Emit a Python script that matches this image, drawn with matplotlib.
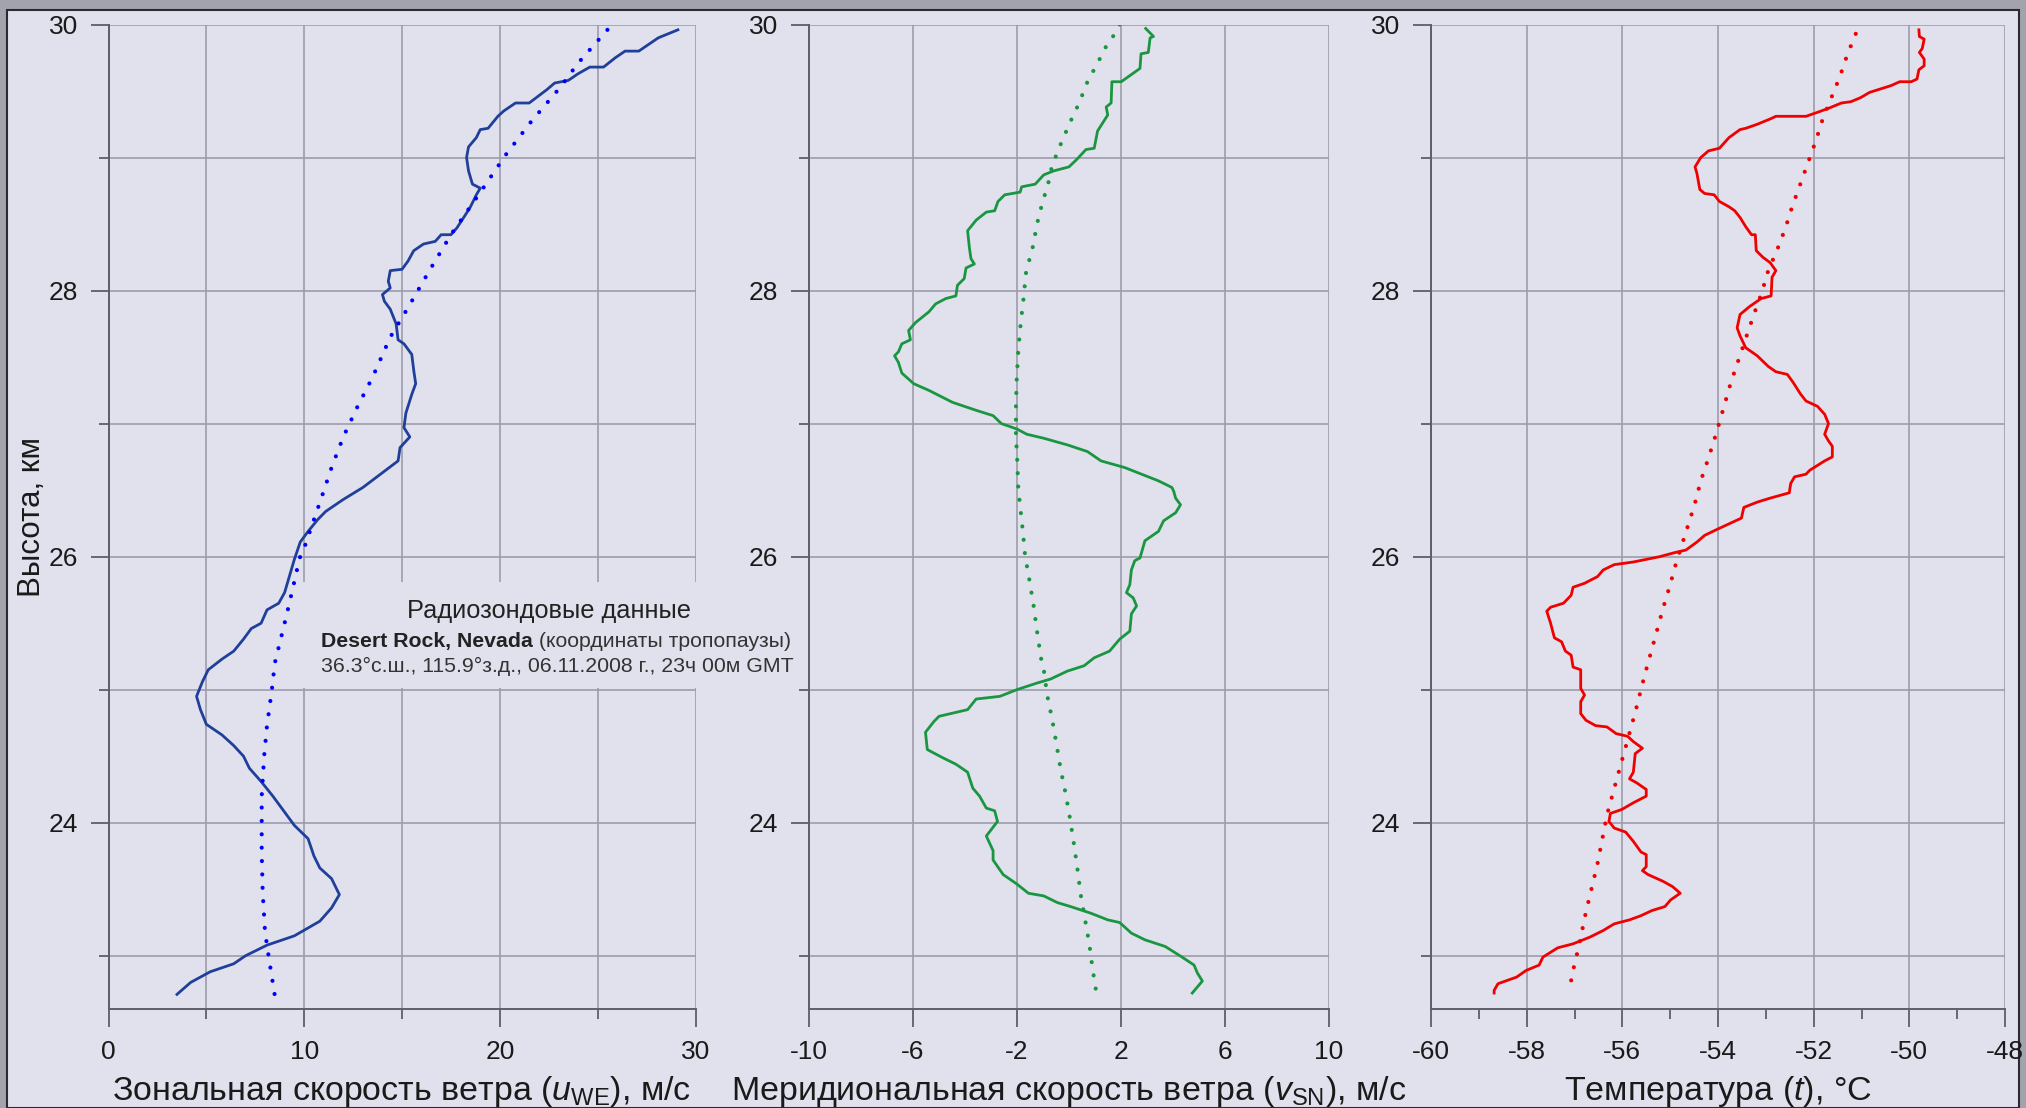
import matplotlib
matplotlib.use('Agg')
import matplotlib.pyplot as plt
from matplotlib.patches import Rectangle

plt.rcParams['font.family'] = ['Liberation Sans', 'DejaVu Sans']
plt.rcParams['mathtext.fontset'] = 'custom'
plt.rcParams['mathtext.rm'] = 'Liberation Sans'
plt.rcParams['mathtext.it'] = 'Liberation Sans:italic'
plt.rcParams['mathtext.bf'] = 'Liberation Sans:bold'
plt.rcParams['axes.unicode_minus'] = False

# --- зональная скорость ветра u (м/с) по высоте (км) ---
h_u = [29.96, 29.9, 29.82, 29.8, 29.8, 29.75, 29.68, 29.68, 29.63, 29.58, 29.56, 29.51,
       29.41, 29.41, 29.35, 29.31, 29.22, 29.21, 29.15, 29.08, 29.0, 28.9, 28.8, 28.77,
       28.72, 28.63, 28.56, 28.47, 28.42, 28.42, 28.37, 28.35, 28.3, 28.22, 28.16, 28.15,
       28.07, 28.02, 27.97, 27.92, 27.86, 27.75, 27.63, 27.6, 27.52, 27.4, 27.3, 27.22,
       27.08, 26.97, 26.9, 26.82, 26.72, 26.62, 26.52, 26.43, 26.34, 26.28, 26.19, 26.11,
       25.98, 25.83, 25.73, 25.65, 25.6, 25.5, 25.46, 25.38, 25.29, 25.23, 25.15, 25.06,
       24.95, 24.85, 24.74, 24.66, 24.58, 24.5, 24.41, 24.31, 24.2, 24.1, 23.98, 23.88,
       23.75, 23.66, 23.58, 23.46, 23.36, 23.26, 23.15, 23.08, 23.0, 22.94, 22.88, 22.8,
       22.71]
u_obs = [29.1, 28.1, 27.3, 27.1, 26.4, 25.9, 25.3, 24.6, 24.0, 23.5, 22.8, 22.4,
         21.5, 20.8, 20.2, 19.9, 19.4, 19.0, 18.8, 18.4, 18.3, 18.4, 18.6, 19.0,
         18.8, 18.5, 18.2, 17.8, 17.5, 17.0, 16.7, 16.1, 15.6, 15.3, 15.0, 14.4,
         14.3, 14.4, 14.0, 14.1, 14.4, 14.7, 14.8, 15.1, 15.5, 15.6, 15.7, 15.5,
         15.2, 15.1, 15.4, 14.9, 14.8, 13.9, 13.0, 12.0, 11.1, 10.7, 10.2, 9.8,
         9.5, 9.2, 9.0, 8.7, 8.1, 7.8, 7.3, 6.9, 6.4, 5.8, 5.1, 4.8,
         4.5, 4.7, 5.0, 5.8, 6.4, 6.9, 7.2, 7.8, 8.4, 8.9, 9.5, 10.2,
         10.5, 10.8, 11.4, 11.8, 11.4, 10.8, 9.5, 8.1, 7.0, 6.4, 5.2, 4.2,
         3.5]
h_u_fit = [29.96, 29.71, 29.53, 29.27, 29.02, 28.76, 28.42, 28.15, 27.87, 27.65, 27.35,
           27.12, 26.9, 26.67, 26.45, 26.09, 25.99, 25.75, 25.56, 25.38, 25.2, 25.0,
           24.73, 24.51, 24.2, 24.0, 23.78, 23.48, 23.18, 22.98, 22.7]
u_fit = [25.5, 24.0, 23.1, 21.6, 20.3, 19.1, 17.5, 16.4, 15.3, 14.4, 13.5,
         12.7, 12.0, 11.4, 10.9, 10.06, 9.77, 9.4, 9.1, 8.8, 8.5, 8.35,
         8.1, 7.96, 7.83, 7.83, 7.83, 7.88, 8.0, 8.2, 8.5]

# --- меридиональная скорость ветра v (м/с) ---
h_v = [29.97, 29.91, 29.9, 29.79, 29.78, 29.67, 29.57, 29.57, 29.41, 29.38, 29.32, 29.2,
       29.07, 29.06, 28.99, 28.93, 28.9, 28.87, 28.8, 28.78, 28.74, 28.72, 28.67, 28.6,
       28.59, 28.53, 28.45, 28.32, 28.24, 28.2, 28.17, 28.09, 28.04, 27.96, 27.94, 27.9,
       27.84, 27.76, 27.7, 27.63, 27.6, 27.54, 27.51, 27.46, 27.38, 27.3, 27.25, 27.16,
       27.1, 27.06, 27.0, 26.96, 26.92, 26.89, 26.84, 26.79, 26.72, 26.67, 26.62, 26.57,
       26.52, 26.49, 26.44, 26.39, 26.33, 26.27, 26.19, 26.12, 25.99, 25.97, 25.9, 25.79,
       25.73, 25.69, 25.63, 25.57, 25.44, 25.38, 25.29, 25.24, 25.18, 25.14, 25.08, 25.05,
       25.0, 24.95, 24.93, 24.85, 24.8, 24.76, 24.68, 24.55, 24.49, 24.44, 24.38, 24.26,
       24.2, 24.11, 24.09, 24.01, 23.9, 23.79, 23.72, 23.61, 23.54, 23.47, 23.45, 23.4,
       23.37, 23.32, 23.27, 23.25, 23.17, 23.12, 23.07, 22.99, 22.93, 22.87, 22.81, 22.72]
v_obs = [2.95, 3.25, 3.12, 3.05, 2.77, 2.73, 2.01, 1.65, 1.62, 1.43, 1.49, 1.1,
         0.97, 0.65, 0.32, 0.0, -0.58, -0.97, -1.3, -1.82, -1.88, -2.47, -2.73, -2.86,
         -3.18, -3.57, -3.9, -3.83, -3.77, -3.64, -3.96, -4.03, -4.29, -4.35, -4.74, -5.13,
         -5.39, -5.9, -6.17, -6.1, -6.43, -6.56, -6.71, -6.56, -6.43, -5.97, -5.39, -4.48,
         -3.57, -2.92, -2.6, -2.01, -1.62, -0.97, -0.06, 0.71, 1.23, 2.14, 2.79, 3.44,
         3.96, 4.03, 4.1, 4.29, 4.1, 3.64, 3.44, 2.92, 2.73, 2.53, 2.4, 2.34,
         2.21, 2.47, 2.6, 2.4, 2.34, 1.95, 1.56, 0.97, 0.58, -0.06, -0.71, -1.23,
         -2.01, -2.66, -3.57, -3.9, -5.0, -5.2, -5.52, -5.45, -4.87, -4.35, -3.9, -3.7,
         -3.44, -3.18, -2.86, -2.75, -3.18, -2.92, -2.92, -2.53, -2.01, -1.56, -0.97, -0.45,
         0.06, 0.84, 1.49, 1.95, 2.4, 2.92, 3.7, 4.35, 4.81, 4.94, 5.13, 4.74]
h_v_fit = [30.0, 29.92, 29.86, 29.71, 29.57, 29.41, 29.26, 29.1, 28.94, 28.77, 28.68,
           28.5, 28.33, 28.14, 27.94, 27.75, 27.55, 27.34, 27.14, 26.92, 26.72, 26.51,
           26.2, 26.01, 25.82, 25.63, 25.44, 25.24, 25.15, 24.96, 24.78, 24.59, 24.4,
           24.22, 24.03, 23.84, 23.66, 23.46, 23.27, 23.09, 22.9, 22.71]
v_fit = [1.95, 1.73, 1.49, 1.1, 0.71, 0.39, 0.03, -0.32, -0.65, -0.84, -1.0,
         -1.23, -1.39, -1.65, -1.75, -1.86, -1.95, -2.01, -2.04, -2.04, -1.99, -1.95,
         -1.78, -1.69, -1.52, -1.36, -1.23, -1.08, -0.97, -0.84, -0.65, -0.48, -0.32,
         -0.13, 0.04, 0.19, 0.32, 0.45, 0.62, 0.78, 0.91, 1.06]

# --- температура t (°C) ---
h_t = [29.96, 29.91, 29.89, 29.82, 29.79, 29.74, 29.69, 29.66, 29.59, 29.57, 29.57, 29.54,
       29.49, 29.45, 29.42, 29.41, 29.37, 29.34, 29.31, 29.31, 29.29, 29.25, 29.22, 29.21,
       29.15, 29.07, 29.05, 29.0, 28.93, 28.88, 28.76, 28.73, 28.72, 28.67, 28.63, 28.6,
       28.55, 28.48, 28.42, 28.42, 28.3, 28.25, 28.21, 28.15, 28.1, 27.96, 27.94, 27.88,
       27.82, 27.72, 27.66, 27.57, 27.51, 27.43, 27.39, 27.37, 27.31, 27.22, 27.17, 27.13,
       27.07, 27.0, 26.92, 26.87, 26.83, 26.75, 26.72, 26.65, 26.62, 26.6, 26.55, 26.48,
       26.44, 26.41, 26.37, 26.29, 26.24, 26.2, 26.16, 26.11, 26.05, 26.03, 26.0, 25.96,
       25.94, 25.9, 25.85, 25.8, 25.77, 25.71, 25.65, 25.62, 25.59, 25.5, 25.39, 25.36,
       25.29, 25.26, 25.17, 25.15, 25.01, 24.96, 24.91, 24.82, 24.77, 24.73, 24.72, 24.67,
       24.65, 24.61, 24.56, 24.52, 24.38, 24.33, 24.3, 24.25, 24.2, 24.15, 24.1, 24.07,
       24.01, 23.96, 23.93, 23.86, 23.78, 23.76, 23.67, 23.64, 23.61, 23.56, 23.52, 23.47,
       23.42, 23.37, 23.34, 23.3, 23.27, 23.24, 23.19, 23.14, 23.09, 23.06, 22.99, 22.93,
       22.89, 22.84, 22.79, 22.74, 22.72]
t_obs = [-49.8, -49.79, -49.69, -49.73, -49.79, -49.69, -49.69, -49.8, -49.84, -49.96, -50.2, -50.39,
         -50.83, -51.02, -51.22, -51.42, -51.69, -51.92, -52.16, -52.79, -52.91, -53.18, -53.42, -53.54,
         -53.77, -53.97, -54.2, -54.36, -54.48, -54.44, -54.38, -54.28, -54.08, -53.97, -53.77, -53.65,
         -53.54, -53.42, -53.3, -53.22, -53.2, -53.06, -52.91, -52.79, -52.87, -52.89, -53.1, -53.34,
         -53.54, -53.6, -53.54, -53.42, -53.18, -52.95, -52.79, -52.55, -52.43, -52.27, -52.16, -51.92,
         -51.77, -51.69, -51.77, -51.69, -51.61, -51.61, -51.77, -52.08, -52.16, -52.4, -52.48, -52.51,
         -52.91, -53.18, -53.46, -53.51, -53.81, -54.05, -54.28, -54.44, -54.67, -54.91, -55.22, -55.77,
         -56.17, -56.4, -56.52, -56.79, -57.03, -57.07, -57.23, -57.5, -57.58, -57.5, -57.42, -57.27,
         -57.19, -57.07, -57.03, -56.87, -56.87, -56.79, -56.87, -56.87, -56.76, -56.56, -56.32, -56.13,
         -55.89, -55.77, -55.58, -55.73, -55.77, -55.85, -55.7, -55.5, -55.5, -55.77, -56.01, -56.25,
         -56.28, -56.17, -55.93, -55.77, -55.61, -55.5, -55.5, -55.58, -55.46, -55.15, -54.95, -54.79,
         -54.99, -55.11, -55.38, -55.62, -55.85, -56.17, -56.4, -56.68, -57.03, -57.35, -57.66, -57.74,
         -58.01, -58.21, -58.6, -58.68, -58.68]
h_t_fit = [29.93, 29.77, 29.61, 29.45, 29.29, 29.12, 28.96, 28.8, 28.63, 28.47, 28.3,
           28.15, 27.98, 27.81, 27.64, 27.48, 27.31, 27.06, 26.9, 26.74, 26.57, 26.39,
           26.14, 25.96, 25.79, 25.61, 25.36, 25.1, 24.83, 24.57, 24.31, 24.06, 23.69,
           23.33, 23.07, 22.89, 22.72]
t_fit = [-51.12, -51.3, -51.45, -51.63, -51.81, -51.96, -52.12, -52.28, -52.45, -52.59, -52.77,
         -52.95, -53.09, -53.26, -53.42, -53.57, -53.73, -53.93, -54.06, -54.2, -54.36, -54.49,
         -54.71, -54.87, -55.0, -55.15, -55.34, -55.54, -55.73, -55.93, -56.13, -56.32, -56.52,
         -56.76, -56.91, -57.03, -57.12]

y_major = [24, 26, 28, 30]
y_minor = [23, 25, 27, 29]
u_ticks = [0, 10, 20, 30]
u_minor = [5, 15, 25]
v_ticks = [-10, -6, -2, 2, 6, 10]
t_ticks = [-60, -58, -56, -54, -52, -50, -48]
t_minor = [-59, -57, -55, -53, -51, -49]

BG = '#e0e1ec'
GRID = '#9c9cab'
AX = '#5e5e6a'
DOTS = (0, (0.01, 3.2))

fig = plt.figure(figsize=(20.26, 11.08), dpi=100)
fig.patch.set_facecolor('#a2a3ad')
fig.add_artist(Rectangle((7 / 2026, 0), 2012 / 2026, 1 - 9.5 / 1108, transform=fig.transFigure,
                         facecolor=BG, edgecolor='#2a2a33', lw=1.5, zorder=-10))

ax1 = fig.add_axes([108.5 / 2026, 0.08935, 587 / 2026, 0.88853])
ax2 = fig.add_axes([809 / 2026, 0.08935, 520 / 2026, 0.88853])
ax3 = fig.add_axes([1431 / 2026, 0.08935, 574 / 2026, 0.88853])


def style(ax, xlim, xt, xminor, xlabel, minor_grid):
    ax.set_facecolor('none')
    ax.set_xlim(*xlim)
    ax.set_ylim(22.6, 30)
    ax.set_xticks(xt)
    ax.set_xticks(xminor, minor=True)
    ax.set_yticks(y_major)
    ax.set_yticks(y_minor, minor=True)
    ax.grid(True, which='major', color=GRID, lw=1.2)
    ax.yaxis.grid(True, which='minor', color=GRID, lw=1.2)
    if minor_grid:
        ax.xaxis.grid(True, which='minor', color=GRID, lw=1.2)
    for s in ['top', 'right']:
        ax.spines[s].set_visible(False)
    for s in ['left', 'bottom']:
        ax.spines[s].set_color(AX)
        ax.spines[s].set_linewidth(1.4)
    ax.tick_params(which='major', length=13, width=1.3, color=AX, labelsize=19,
                   pad=9, labelcolor='#1a1a1a')
    ax.tick_params(which='minor', length=7.5, width=1.3, color=AX)
    ax.set_xlabel(xlabel, fontsize=24.5, color='#1a1a1a', va='baseline')
    ax.xaxis.set_label_coords(0.5, -0.0924)


style(ax1, (0, 30), u_ticks, u_minor,
      r'Зональная скорость ветра ($\mathit{u}_{\mathrm{WE}}$), м/с', True)
style(ax2, (-10, 10), v_ticks, [],
      r'Меридиональная скорость ветра ($\mathit{v}_{\mathrm{SN}}$), м/с', False)
style(ax3, (-60, -48), t_ticks, t_minor, r'Температура ($\mathit{t}$), °C', False)

ax1.set_ylabel('Высота, км', fontsize=22.5, color='#1a1a1a')
ax1.yaxis.label.set_verticalalignment('baseline')
ax1.yaxis.set_label_coords((40 - 108.5) / 587, 0.5)

ax1.plot(u_obs, h_u, color='#1f3f9a', lw=2.0)
ax1.plot(u_fit, h_u_fit, color='#0000ff', lw=3, linestyle=DOTS, dash_capstyle='round')
ax2.plot(v_obs, h_v, color='#1a9641', lw=2.0)
ax2.plot(v_fit, h_v_fit, color='#1a9641', lw=3, linestyle=DOTS, dash_capstyle='round')
ax3.plot(t_obs, h_t, color='#f00000', lw=2.0)
ax3.plot(t_fit, h_t_fit, color='#f00000', lw=3, linestyle=DOTS, dash_capstyle='round')

# подложка под подписью
ax1.add_patch(Rectangle((303 / 2026, 1 - 688 / 1108), 502 / 2026, 106 / 1108,
                        transform=fig.transFigure, facecolor=BG, edgecolor='none',
                        clip_on=False, zorder=1.8))

fig.text(549 / 2026, 1 - 618 / 1108, 'Радиозондовые данные', fontsize=18.3,
         ha='center', va='baseline', color='#222222')
t_bold = fig.text(321 / 2026, 1 - 647 / 1108, 'Desert Rock, Nevada', fontsize=15.3,
                  fontweight='bold', ha='left', va='baseline', color='#222222')
ax1.annotate(' (координаты тропопаузы)', xy=(1, 0), xycoords=t_bold, fontsize=15.3,
             ha='left', va='bottom', color='#333333', annotation_clip=False)
fig.text(321 / 2026, 1 - 672 / 1108, '36.3°с.ш., 115.9°з.д., 06.11.2008 г., 23ч 00м GMT',
         fontsize=15.3, ha='left', va='baseline', color='#333333')

fig.savefig('out.png', dpi=100, facecolor=fig.get_facecolor())
